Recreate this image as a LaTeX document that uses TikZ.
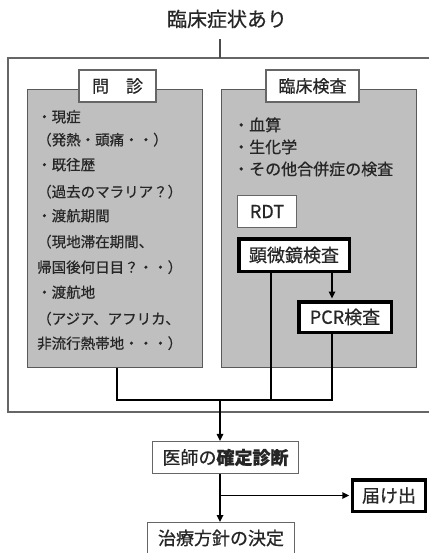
\documentclass[tikz,border=0pt]{standalone}
\usepackage{fontspec}
\setmainfont{Noto Sans CJK JP}[FakeBold=0.6]
\usetikzlibrary{arrows.meta}
\begin{document}
\begin{tikzpicture}[x=1pt,y=-1pt,
 conn/.style={line width=1.6pt, draw=black},
 arr/.style={conn, -{Triangle[length=7pt,width=6.5pt]}},
 graybox/.style={draw=black!65, line width=1.4pt, fill=black!25, inner sep=0pt, anchor=north west},
 tagbox/.style={draw=black!60, line width=1.2pt, fill=white, inner sep=0pt, font=\fontsize{17}{20}\selectfont, text=black!85},
 thinbox/.style={draw=black!60, line width=1.2pt, fill=white, inner sep=0pt, font=\fontsize{18}{21}\selectfont, text=black!85},
 thickbox/.style={draw=black, line width=3.5pt, fill=white, inner sep=0pt, font=\fontsize{18}{21}\selectfont, text=black!85},
 ltxt/.style={anchor=base west, inner sep=0pt, font=\fontsize{14.5}{17}\selectfont, text=black!85},
 rtxt/.style={anchor=base west, inner sep=0pt, font=\fontsize{16}{19}\selectfont, text=black!85},
]
\useasboundingbox (0,0) rectangle (428,553);
\fill[white] (0,0) rectangle (428,553);

% title
\node[inner sep=0pt, font=\fontsize{20}{24}\selectfont, text=black!85] (title) at (227,19) {臨床症状あり};
\coordinate (ttail) at (220,39);
\coordinate (otop) at (220,58);
\draw[draw=black!60, line width=1.6pt] (440,58) -- (8,58) -- (8,412) -- (440,412);
\draw[line width=1.3pt, draw=black!70] (ttail) -- (otop);

% gray panels
\node[graybox, minimum width=175pt, minimum height=278pt] (lbox) at (27,89) {};
\node[graybox, minimum width=195pt, minimum height=278pt] (rbox) at (221,89) {};

% tags
\node[tagbox, minimum width=77pt, minimum height=32pt] (tagL) at (117.5,86) {問　診};
\node[tagbox, minimum width=93pt, minimum height=32pt] (tagR) at (312.5,86) {臨床検査};

% left text
\node[ltxt] (l1) at (37,122.2) {・現症};
\node[ltxt] (l2) at (37,145.2) {（発熱・頭痛・・）};
\node[ltxt] (l3) at (37,170.2) {・既往歴};
\node[ltxt] (l4) at (37,197.2) {（過去のマラリア？）};
\node[ltxt] (l5) at (37,221.2) {・渡航期間};
\node[ltxt] (l6) at (37,247.2) {（現地滞在期間、};
\node[ltxt] (l7) at (37,272.7) {帰国後何日目？・・）};
\node[ltxt] (l8) at (37,297.7) {・渡航地};
\node[ltxt] (l9) at (37,324.2) {（アジア、アフリカ、};
\node[ltxt] (l10) at (37,348.7) {非流行熱帯地・・・）};

% right text
\node[rtxt] (r1) at (233,131) {・血算};
\node[rtxt] (r2) at (233,153) {・生化学};
\node[rtxt] (r3) at (233,175) {・その他合併症の検査};

% test boxes
\node[thinbox, minimum width=59pt, minimum height=32pt] (rdt) at (267,211.5) {RDT};
\node[thickbox, minimum width=110.5pt, minimum height=32.5pt] (micro) at (294,255) {顕微鏡検査};
\node[thickbox, minimum width=92.5pt, minimum height=30.5pt] (pcr) at (345,317) {PCR検査};

% lower boxes
\node[thinbox, minimum width=146pt, minimum height=32pt] (doc) at (225.5,457.5) {医師の{\bfseries 確定診断}};
\node[thickbox, minimum width=73pt, minimum height=31.5pt] (report) at (389,495.5) {届け出};
\node[thinbox, minimum width=147pt, minimum height=50pt, anchor=north] (cure) at (221,522) {};
\node[inner sep=0pt, font=\fontsize{18}{21}\selectfont, text=black!85] (curetxt) at (221,538) {治療方針の決定};

% connectors
\coordinate (jL) at (117,400);
\coordinate (jM) at (271,400);
\coordinate (jP) at (332,400);
\coordinate (jC) at (220,400);
\coordinate (jD) at (220,495.5);
\draw[conn] (jL |- lbox.south) -- (jL) -- (jP) -- (jP |- pcr.south);
\draw[conn] (jM |- micro.south) -- (jM);
\draw[arr, shorten >=1.5pt] (jP |- micro.south) -- (jP |- pcr.north);
\draw[arr] (jC) -- (jC |- doc.north);
\draw[arr] (jC |- doc.south) -- (jC |- cure.north);
\draw[arr, shorten >=1.5pt] (jD) -- (report.west);
\end{tikzpicture}
\end{document}
